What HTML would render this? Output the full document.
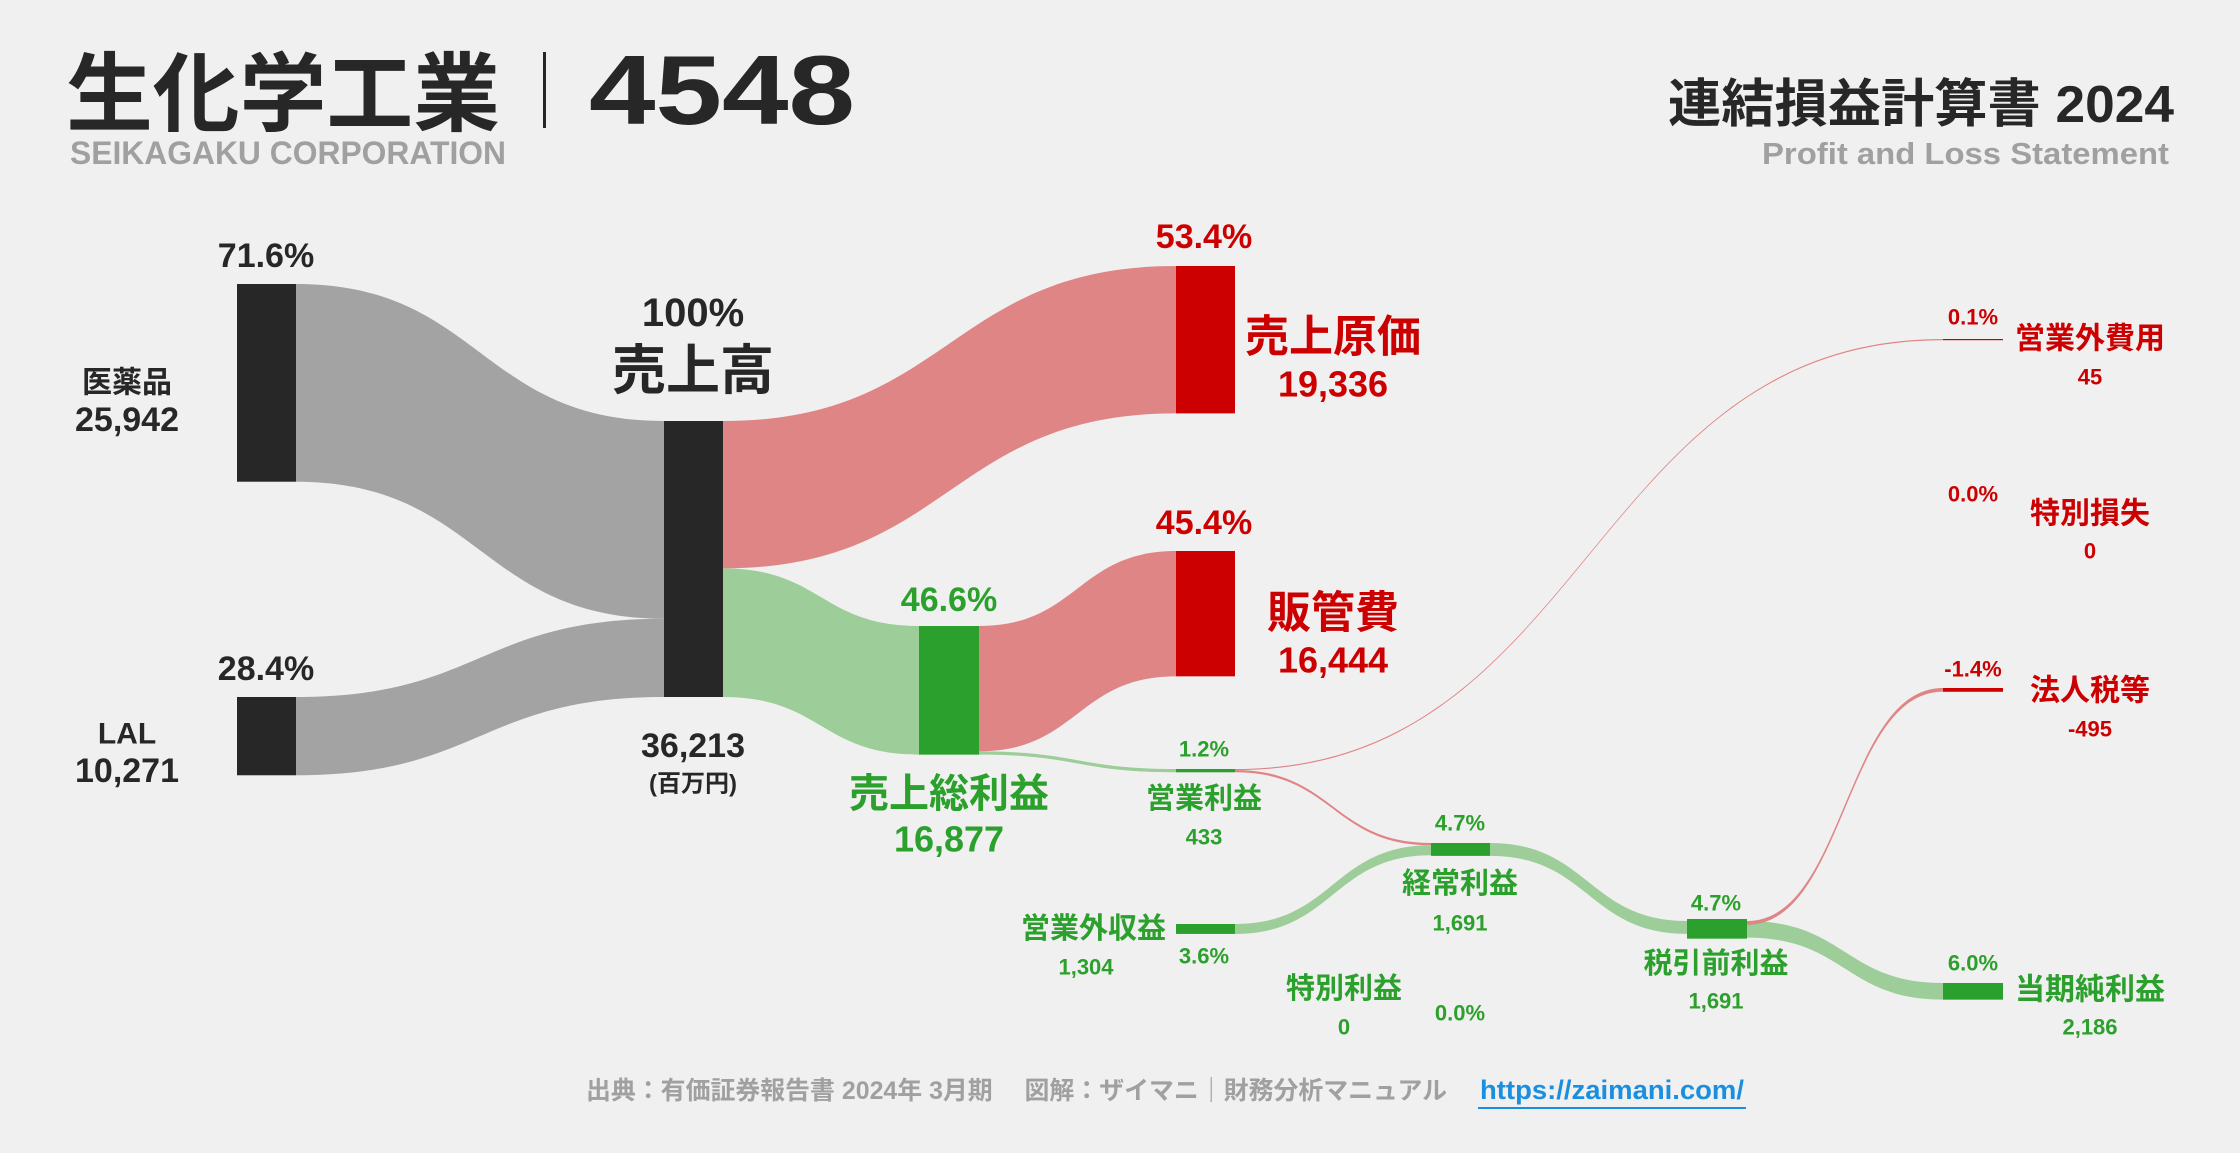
<!DOCTYPE html>
<html><head><meta charset="utf-8">
<style>
html,body{margin:0;padding:0;background:#f0f0f0;}
svg{display:block;}
text{font-family:"Liberation Sans","Noto Sans CJK JP",sans-serif;font-weight:bold;}
</style></head>
<body>
<svg id="chart" width="2240" height="1153" viewBox="0 0 2240 1153">
<rect width="2240" height="1153" fill="#f0f0f0"/>
<g id="links"></g>
<g id="nodes"></g>

<text x="66" y="124" font-size="86" fill="#272727" textLength="434" lengthAdjust="spacingAndGlyphs">生化学工業</text>
<rect x="543" y="52" width="3" height="76" fill="#272727"/>
<text x="589" y="124" font-size="98" fill="#272727" textLength="266" lengthAdjust="spacingAndGlyphs">4548</text>
<text x="70" y="164" font-size="32" fill="#a0a0a0" textLength="436" lengthAdjust="spacingAndGlyphs">SEIKAGAKU CORPORATION</text>
<text x="2174" y="122" font-size="52" fill="#272727" text-anchor="end" textLength="506" lengthAdjust="spacingAndGlyphs">連結損益計算書 2024</text>
<text x="2169" y="164" font-size="31" fill="#a0a0a0" text-anchor="end" textLength="407" lengthAdjust="spacingAndGlyphs">Profit and Loss Statement</text>

<g dominant-baseline="central" text-anchor="middle">
<text x="266" y="256" font-size="34" fill="#272727">71.6%</text>
<text x="127" y="383" font-size="30" fill="#272727">医薬品</text>
<text x="127" y="420" font-size="34" fill="#272727">25,942</text>
<text x="266" y="669" font-size="34" fill="#272727">28.4%</text>
<text x="127" y="734" font-size="30" fill="#272727">LAL</text>
<text x="127" y="771" font-size="34" fill="#272727">10,271</text>

<text x="693" y="313" font-size="40" fill="#272727">100%</text>
<text x="693" y="371" font-size="54" fill="#272727">売上高</text>
<text x="693" y="746" font-size="34" fill="#272727">36,213</text>
<text x="693" y="784" font-size="24" fill="#272727">(百万円)</text>

<text x="1204" y="237" font-size="34" fill="#cc0000">53.4%</text>
<text x="1333" y="337" font-size="44" fill="#cc0000">売上原価</text>
<text x="1333" y="384" font-size="36" fill="#cc0000">19,336</text>
<text x="1204" y="523" font-size="34" fill="#cc0000">45.4%</text>
<text x="1333" y="613" font-size="44" fill="#cc0000">販管費</text>
<text x="1333" y="660" font-size="36" fill="#cc0000">16,444</text>

<text x="949" y="600" font-size="34" fill="#2ca02c">46.6%</text>
<text x="949" y="794" font-size="40" fill="#2ca02c">売上総利益</text>
<text x="949" y="839" font-size="36" fill="#2ca02c">16,877</text>

<text x="1204" y="749" font-size="22" fill="#2ca02c">1.2%</text>
<text x="1204" y="799" font-size="29" fill="#2ca02c">営業利益</text>
<text x="1204" y="837" font-size="22" fill="#2ca02c">433</text>

<text x="1166" y="929" font-size="29" fill="#2ca02c" text-anchor="end">営業外収益</text>
<text x="1086" y="967" font-size="22" fill="#2ca02c">1,304</text>
<text x="1204" y="956" font-size="22" fill="#2ca02c">3.6%</text>

<text x="1460" y="823" font-size="22" fill="#2ca02c">4.7%</text>
<text x="1460" y="884" font-size="29" fill="#2ca02c">経常利益</text>
<text x="1460" y="923" font-size="22" fill="#2ca02c">1,691</text>

<text x="1344" y="989" font-size="29" fill="#2ca02c">特別利益</text>
<text x="1344" y="1027" font-size="22" fill="#2ca02c">0</text>
<text x="1460" y="1013" font-size="22" fill="#2ca02c">0.0%</text>

<text x="1716" y="903" font-size="22" fill="#2ca02c">4.7%</text>
<text x="1716" y="964" font-size="29" fill="#2ca02c">税引前利益</text>
<text x="1716" y="1001" font-size="22" fill="#2ca02c">1,691</text>

<text x="1973" y="963" font-size="22" fill="#2ca02c">6.0%</text>
<text x="2090" y="990" font-size="30" fill="#2ca02c">当期純利益</text>
<text x="2090" y="1027" font-size="22" fill="#2ca02c">2,186</text>

<text x="1973" y="317" font-size="22" fill="#cc0000">0.1%</text>
<text x="2090" y="339" font-size="30" fill="#cc0000">営業外費用</text>
<text x="2090" y="377" font-size="22" fill="#cc0000">45</text>
<text x="1973" y="494" font-size="22" fill="#cc0000">0.0%</text>
<text x="2090" y="514" font-size="30" fill="#cc0000">特別損失</text>
<text x="2090" y="551" font-size="22" fill="#cc0000">0</text>
<text x="1973" y="669" font-size="22" fill="#cc0000">-1.4%</text>
<text x="2090" y="691" font-size="30" fill="#cc0000">法人税等</text>
<text x="2090" y="729" font-size="22" fill="#cc0000">-495</text>
</g>

<text x="586" y="1099" font-size="25" fill="#a0a0a0" textLength="861" lengthAdjust="spacingAndGlyphs">出典：有価証券報告書 2024年 3月期　 図解：ザイマニ｜財務分析マニュアル</text>
<text x="1480" y="1099" font-size="27" fill="#1a8fe0" textLength="264" lengthAdjust="spacingAndGlyphs">https://zaimani.com/</text>
<rect x="1478" y="1107" width="268" height="2" fill="#1a8fe0"/>
</svg>
<script>
const segmentNames = ['医薬品', 'LAL'];
const segmentValues = [25942, 10271];
const revenue = 36213;
const costValues = [19336, 16444];
const grossProfit = 16877;
const operatingProfit = 433;
const nonOpIncome = 1304;
const nonOpExpense = 45;
const ordinaryProfit = 1691;
const pretaxProfit = 1691;
const taxValue = -495;
const netIncome = 2186;

const NS = 'http://www.w3.org/2000/svg';
const k = 276 / revenue;
function h(v){ return Math.max(Math.abs(v) * k, 1.5); }
const linksG = document.getElementById('links');
const nodesG = document.getElementById('nodes');
function link(name, x0, a0, b0, x1, a1, b1, color){
  const m = (x0 + x1) / 2;
  const p = document.createElementNS(NS, 'path');
  p.setAttribute('d', `M${x0},${a0} C${m},${a0} ${m},${a1} ${x1},${a1} L${x1},${b1} C${m},${b1} ${m},${b0} ${x0},${b0} Z`);
  p.setAttribute('fill', color);
  
  
  linksG.appendChild(p);
}
function node(name, x, y, w, hh, color){
  const r = document.createElementNS(NS, 'rect');
  r.setAttribute('x', x); r.setAttribute('y', y);
  r.setAttribute('width', w); r.setAttribute('height', hh);
  r.setAttribute('fill', color);
  
  
  nodesG.appendChild(r);
}
const DK = '#272727', GF = '#a3a3a3', RN = '#cc0000', RF = '#e08585', GN = '#2ca02c', GL = '#9dcd98';
const W = 59;
const h0 = h(segmentValues[0]), h1 = h(segmentValues[1]);
const hc = h(costValues[0]), hs = h(costValues[1]), hg = h(grossProfit);
const hop = h(operatingProfit), he = h(nonOpExpense) , hni = h(nonOpIncome);
const hord = h(ordinaryProfit), hpre = h(pretaxProfit), ht = h(taxValue), hn = h(netIncome);
const revTop = 421, revH = h(revenue);

link('pharma-flow', 296, 284, 284 + h0, 664, revTop, revTop + h0, GF);
link('lal-flow', 296, 697, 697 + h1, 664, revTop + h0, revTop + h0 + h1, GF);
link('cogs-flow', 723, revTop, revTop + hc, 1176, 266, 266 + hc, RF);
link('gross-profit-flow', 723, revTop + hc, revTop + hc + hg, 919, 626, 626 + hg, GL);
link('sga-flow', 979, 626, 626 + hs, 1176, 551, 551 + hs, RF);
link('op-profit-flow', 979, 626 + hs, 626 + hs + hop, 1176, 769, 769 + hop, GL);
link('non-op-expense-flow', 1235, 769, 769 + 1.2, 1943, 339, 339 + 1.2, RF);
link('op-to-ordinary-flow', 1235, 769 + 1, 769 + hop, 1431, 843, 843 + hop - 1, RF);
link('non-op-income-flow', 1235, 924, 924 + hni, 1431, 843 + hop - 1, 843 + hop - 1 + hni, GL);
link('ordinary-to-pretax-flow', 1490, 843, 843 + hord, 1687, 921, 921 + hord, GL);
link('pretax-to-net-flow', 1747, 921, 921 + hn, 1943, 983, 983 + hn, GL);
link('tax-flow', 1747, 921, 921 + ht, 1943, 688, 688 + ht, RF);

node('pharma-node', 237, 284, W, h0, DK);
node('lal-node', 237, 697, W, h1, DK);
node('revenue-node', 664, revTop, W, revH, DK);
node('cogs-node', 1176, 266, W, hc, RN);
node('sga-node', 1176, 551, W, hs, RN);
node('gross-profit-node', 919, 626, 60, hg, GN);
node('op-profit-node', 1176, 769, W, hop, GN);
node('non-op-income-node', 1176, 924, W, hni, GN);
node('ordinary-profit-node', 1431, 843, W, hord, GN);
node('pretax-node', 1687, 919, 60, Math.max(hpre, hn) + 3, GN);
node('net-income-node', 1943, 983, 60, hn, GN);
node('tax-node', 1943, 688, 60, ht, RN);
node('non-op-expense-node', 1943, 339, 60, 1.2, RN);
</script>
</body></html>
